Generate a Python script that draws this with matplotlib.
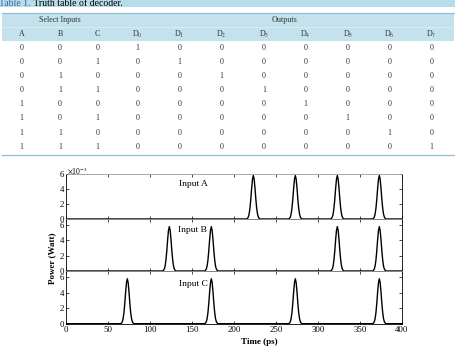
import numpy as np
import matplotlib
matplotlib.use("Agg")
import matplotlib.pyplot as plt
from matplotlib.patches import Rectangle
from matplotlib.lines import Line2D

# truth table of the 3-to-8 decoder
CAPTION_TAG  = "Table 1."
CAPTION_TEXT = " Truth table of decoder."
GROUPS  = ["Select Inputs", "Outputs"]
COLS    = ["A", "B", "C"] + [f"D$_{{{k}}}$" for k in range(8)]
ROWS = [
    [0, 0, 0, 1, 0, 0, 0, 0, 0, 0, 0],
    [0, 0, 1, 0, 1, 0, 0, 0, 0, 0, 0],
    [0, 1, 0, 0, 0, 1, 0, 0, 0, 0, 0],
    [0, 1, 1, 0, 0, 0, 1, 0, 0, 0, 0],
    [1, 0, 0, 0, 0, 0, 0, 1, 0, 0, 0],
    [1, 0, 1, 0, 0, 0, 0, 0, 1, 0, 0],
    [1, 1, 0, 0, 0, 0, 0, 0, 0, 1, 0],
    [1, 1, 1, 0, 0, 0, 0, 0, 0, 0, 1],
]

# pulse trains (ps)
INPUT_NAMES = ["Input A", "Input B", "Input C"]
PULSES = {
    "Input A": [223, 273, 323, 373],
    "Input B": [123, 173, 323, 373],
    "Input C": [73, 173, 273, 373],
}
# one pulse shape: offset from centre (ps) vs power (x1e-3 W)
PULSE_DT = [-8, -7, -6, -5, -4, -3, -2, -1, 0, 1, 2, 3, 4, 5, 6, 7, 8]
PULSE_P  = [0, 0.08, 0.25, 0.66, 1.45, 2.65, 4.1, 5.3, 5.8,
            5.3, 4.1, 2.65, 1.45, 0.66, 0.25, 0.08, 0]
T_START, T_END = 0, 400

W, H = 456, 348
SERIF = ["Liberation Serif", "DejaVu Serif"]
plt.rcParams["font.family"] = SERIF
plt.rcParams["mathtext.fontset"] = "stix"

BLUE_BG  = "#c3e2ee"
BLUE_LN  = "#8fbfd3"
TXT      = "#333333"

def fx(px):
    return px / W

def fy(py):
    return 1 - py / H

def hline(fig, y, x0, x1, color, lw):
    fig.add_artist(Line2D([fx(x0), fx(x1)], [fy(y), fy(y)], color=color, lw=lw,
                          transform=fig.transFigure))

def band(fig, y0, y1, color):
    fig.add_artist(Rectangle((0 if y0 < 8 else fx(2), fy(y1)),
                             1 if y0 < 8 else fx(452), (y1 - y0) / H,
                             color=color, lw=0, transform=fig.transFigure))

def pulse_train(centres):
    t, p = [T_START], [0.0]
    for c in centres:
        t += [c + d for d in PULSE_DT]
        p += PULSE_P
    t.append(T_END)
    p.append(0.0)
    return np.array(t), np.array(p) * 1e-3

fig = plt.figure(figsize=(W / 100, H / 100), dpi=100)

# ── table ────────────────────────────────────────────────
band(fig, 0, 6.7, "#b9dcea")
cap = fig.text(fx(-1), fy(5.9), CAPTION_TAG, color="#2a6ea6", fontsize=7,
               va="baseline", ha="left")
fig.canvas.draw()
bb = cap.get_window_extent()
fig.text(bb.x1 / (W), fy(5.9), CAPTION_TEXT, color="black", fontsize=7,
         va="baseline", ha="left")

band(fig, 12.7, 41, BLUE_BG)
hline(fig, 12.9, 2, 454, BLUE_LN, 0.9)
hline(fig, 27.0, 2, 454, "#d8eef6", 0.6)
hline(fig, 155.3, 2, 454, BLUE_LN, 0.9)

col_x = [21.7, 60, 97.7, 137.7, 179.5, 221.7, 264, 305.7, 347.7, 389.3, 431.7]
fig.text(fx(59.5), fy(20), GROUPS[0], ha="center", va="center", fontsize=5.8, color=TXT)
fig.text(fx(284.7), fy(20), GROUPS[1], ha="center", va="center", fontsize=5.8, color=TXT)
for x, lab in zip(col_x, COLS):
    fig.text(fx(x), fy(34), lab, ha="center", va="center", fontsize=5.8, color=TXT)
for i, row in enumerate(ROWS):
    y = 47.7 + i * 14.14
    for x, v in zip(col_x, row):
        fig.text(fx(x), fy(y), str(v), ha="center", va="center", fontsize=5.8, color=TXT)

# ── pulse plots ──────────────────────────────────────────
L, R = 66, 402
panels = [(174, 219, 6.0), (219, 271, 6.8), (271, 323.7, 6.8)]
label_y = [184, 230, 284]
axes = []
for k, (name, (top, bot, ymax)) in enumerate(zip(INPUT_NAMES, panels)):
    ax = fig.add_axes([fx(L), fy(bot), (R - L) / W, (bot - top) / H])
    t, p = pulse_train(PULSES[name])
    ax.plot(t, p, color="black", lw=1.0)
    ax.set_xlim(T_START, T_END)
    ax.set_ylim(0, ymax * 1e-3)
    ax.set_yticks([0, 2e-3, 4e-3, 6e-3])
    ax.set_yticklabels(["0", "2", "4", "6"])
    ax.set_xticks(np.arange(0, 401, 50))
    ax.tick_params(direction="in", top=True, right=True, length=2.5, width=0.5,
                   labelsize=6.3, pad=1.5, colors="black")
    if k < 2:
        ax.tick_params(labelbottom=False)
    for s in ax.spines.values():
        s.set_linewidth(0.6)
    ax.spines["top"].set_color("#999999")
    ax.patch.set_alpha(0)
    fig.text(fx(193), fy(label_y[k]), name, ha="center", va="center", fontsize=6.8)
    axes.append(ax)

fig.text(fx(67), fy(171), r"$\times$10$^{-3}$", ha="left", va="center", fontsize=5.5)
fig.text(fx(52), fy(258), "Power (Watt)", rotation=90, ha="center", va="center",
         fontsize=6.5, fontweight="bold")
fig.text(fx(259), fy(341.5), "Time (ps)", ha="center", va="center",
         fontsize=6.5, fontweight="bold")

fig.savefig("out.png", dpi=100)
